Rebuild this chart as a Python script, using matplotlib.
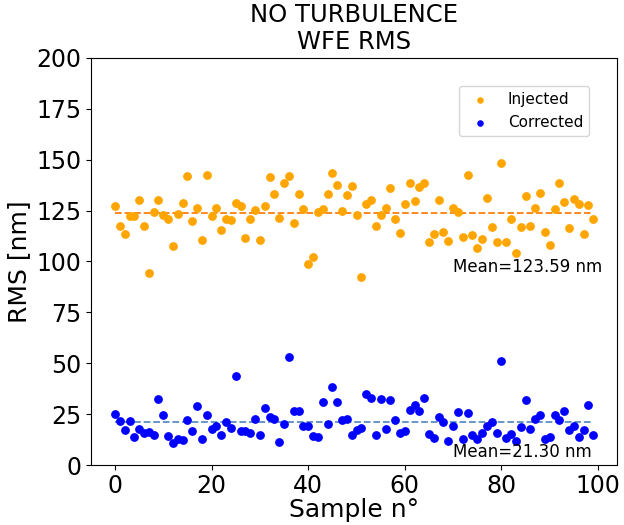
import numpy as np
import matplotlib
matplotlib.use("Agg")
import matplotlib.pyplot as plt

# RMS values (nm)
injected = [127.4, 117.6, 113.3, 122.3, 122.3, 130.4, 117.6, 94.2, 124.3, 130.4,
            122.6, 121.0, 107.6, 123.5, 128.7, 142.1, 120.0, 126.1, 110.5, 142.4,
            122.3, 126.4, 115.3, 121.0, 120.3, 128.7, 127.1, 111.3, 120.7, 125.2,
            110.7, 127.1, 141.5, 133.1, 121.5, 138.5, 141.9, 118.7, 133.1, 125.6,
            98.9, 102.2, 124.3, 125.9, 133.1, 143.4, 137.4, 124.9, 132.5, 137.2,
            123.0, 92.3, 128.0, 130.4, 117.2, 122.6, 126.1, 136.1, 120.7, 114.0,
            128.0, 138.7, 129.7, 136.4, 138.4, 109.5, 113.6, 130.4, 114.6, 110.2,
            126.1, 124.1, 111.8, 142.4, 112.8, 106.6, 110.9, 131.3, 116.9, 109.7,
            148.2, 109.7, 120.8, 104.3, 116.9, 132.3, 117.2, 126.0, 133.8, 114.3,
            107.9, 125.6, 138.5, 129.4, 116.3, 130.7, 128.0, 113.3, 127.7, 120.7]

corrected = [25.0, 21.6, 17.4, 21.5, 13.6, 17.7, 15.6, 16.1, 14.9, 32.4,
             24.4, 14.3, 10.7, 12.6, 12.4, 22.4, 16.7, 29.2, 12.6, 24.7,
             17.9, 19.3, 14.9, 21.3, 18.4, 43.9, 16.7, 16.7, 15.9, 22.9,
             14.9, 28.3, 23.6, 22.6, 11.6, 20.0, 52.9, 26.4, 26.4, 19.0,
             19.2, 14.3, 13.6, 30.8, 20.3, 38.5, 30.8, 22.4, 22.9, 14.9,
             17.4, 18.4, 34.9, 32.8, 14.9, 32.4, 17.7, 32.1, 22.0, 15.6,
             16.9, 27.0, 29.7, 26.7, 33.1, 15.1, 13.3, 23.4, 21.0, 12.1,
             19.3, 26.0, 13.0, 25.7, 14.6, 13.0, 15.7, 19.3, 21.1, 15.7,
             50.9, 13.4, 15.2, 12.0, 18.7, 32.1, 17.7, 22.7, 24.4, 13.0,
             13.9, 24.4, 22.1, 26.7, 17.2, 19.3, 13.6, 17.2, 29.5, 14.6]

mean_injected = 123.59
mean_corrected = 21.30

samples = np.arange(len(injected))

fig = plt.figure(figsize=(6.24, 5.25), dpi=100)
ax = fig.add_axes([0.146, 0.114, 0.843, 0.776])

ax.scatter(samples, injected, s=28, color='orange', label='Injected', zorder=3)
ax.scatter(samples, corrected, s=28, color='blue', label='Corrected', zorder=3)
ax.hlines(mean_injected, samples[0], samples[-1], colors='C1', linestyles='--', linewidth=1.3)
ax.hlines(mean_corrected, samples[0], samples[-1], colors='#5b8fc4', linestyles='--', linewidth=1.3)

ax.text(70, 94.6, 'Mean=%.2f nm' % mean_injected, fontsize=12)
ax.text(70, 3.9, 'Mean=%.2f nm' % mean_corrected, fontsize=12)

ax.set_ylim(0, 200)
ax.set_yticks(np.arange(0, 201, 25))
ax.set_xticks(np.arange(0, 101, 20))
ax.tick_params(labelsize=17)
ax.tick_params(axis='x', pad=3)
ax.set_xlabel('Sample n°', fontsize=18, labelpad=0)
ax.set_ylabel('RMS [nm]', fontsize=18)
ax.set_title('NO TURBULENCE\nWFE RMS', fontsize=17.5)

ax.legend(loc='upper right', bbox_to_anchor=(0.947, 0.931), borderaxespad=0,
          fontsize=11, scatterpoints=1, markerscale=0.7)

fig.savefig('out.png', dpi=100)
